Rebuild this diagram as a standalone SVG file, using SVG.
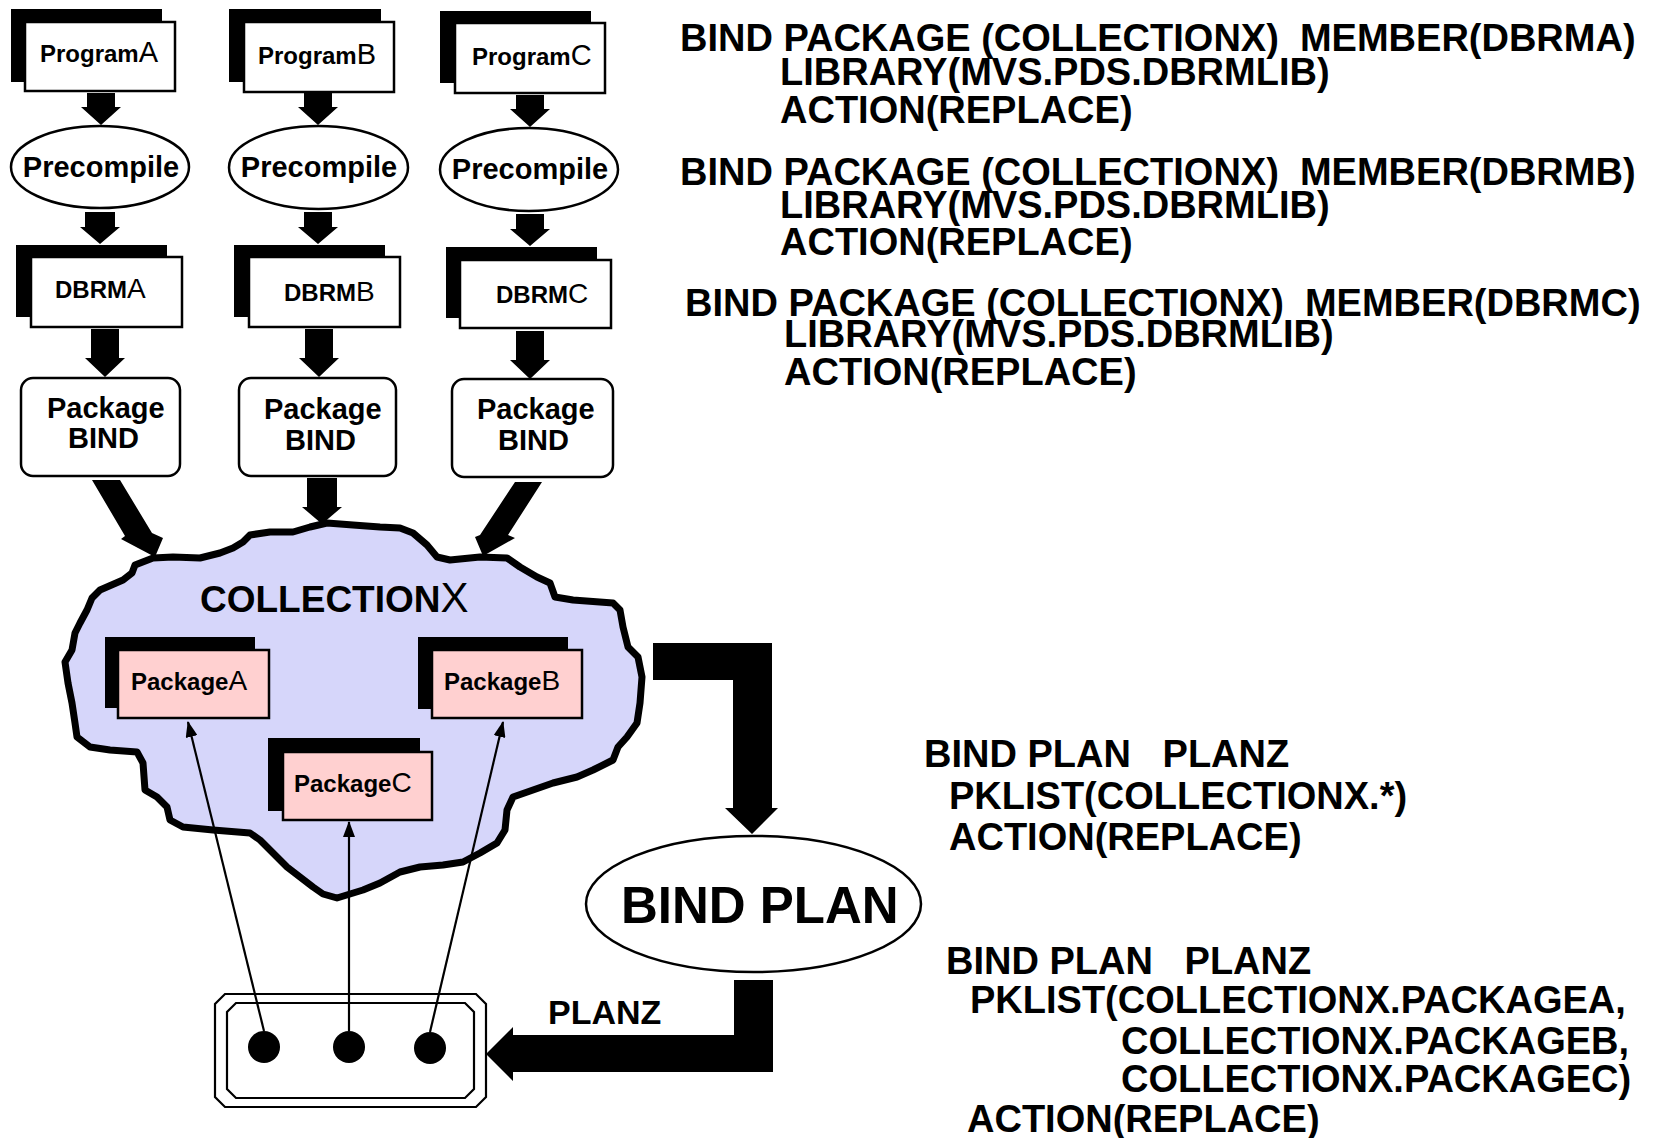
<svg xmlns="http://www.w3.org/2000/svg" width="1657" height="1138" viewBox="0 0 1657 1138">
<style>
  .bg{fill:#ffffff}
  .sh{fill:#000000}
  .box{fill:#ffffff;stroke:#000000;stroke-width:2.5}
  .pk{fill:#ffd0d0;stroke:#000000;stroke-width:2.5}
  .ell{fill:#ffffff;stroke:#000000;stroke-width:2.5}
  .blk{fill:#000000}
  .thin{fill:none;stroke:#000000;stroke-width:2.2}
  .cloud{fill:#d6d6fa;stroke:#000000;stroke-width:7;stroke-linejoin:round}
  .t{font-family:"Liberation Sans",Arial,sans-serif;fill:#000000}
  .b{font-weight:bold}
  .code{font-family:"Liberation Sans",Arial,sans-serif;font-weight:bold;font-size:38px;fill:#000000}
</style>
<defs>
  <marker id="ah" viewBox="0 0 16 12" refX="15" refY="6" markerWidth="16" markerHeight="12" markerUnits="userSpaceOnUse" orient="auto">
    <path d="M0,0 L16,6 L0,12 z" fill="#000000"/>
  </marker>
</defs>
<rect class="bg" x="0" y="0" width="1657" height="1138"/>

<g id="collectionx">
  <path class="cloud" d="M153,558 L173,557 L200,558 L220,553 L233,548 L243,542 L250,535 L270,532 L293,532 L310,527 L327,523 L353,525 L380,527 L400,528 L413,533 L427,545 L437,557 L450,560 L480,557 L507,558 L520,567 L537,577 L550,583 L555,597 L573,600 L613,603 L620,610 L623,627 L628,647 L638,657 L642,677 L640,703 L637,723 L627,737 L618,747 L613,760 L593,770 L577,777 L553,783 L533,790 L513,797 L507,810 L505,830 L497,843 L480,853 L463,862 L443,865 L420,867 L400,872 L380,883 L363,890 L350,894 L337,898 L323,894 L313,887 L300,877 L287,867 L273,853 L260,840 L250,833 L213,830 L183,827 L170,820 L167,807 L157,797 L145,790 L143,763 L137,752 L110,750 L90,747 L77,737 L75,723 L72,703 L68,683 L65,662 L72,650 L75,633 L80,623 L87,610 L92,598 L100,590 L123,580 L132,573 L135,565 Z"/>
  <text class="t b" x="200" y="612" font-size="37">COLLECTION<tspan font-weight="normal" font-size="42">X</tspan></text>
</g>

<g id="packageA">
  <rect class="sh" x="105" y="637" width="150" height="71"/>
  <rect class="pk" x="118" y="650" width="151" height="68"/>
  <text class="t b" x="131" y="690" font-size="24">Package<tspan font-weight="normal" font-size="28">A</tspan></text>
</g>
<g id="packageB">
  <rect class="sh" x="418" y="637" width="150" height="72"/>
  <rect class="pk" x="432" y="650" width="150" height="68"/>
  <text class="t b" x="444" y="690" font-size="24">Package<tspan font-weight="normal" font-size="28">B</tspan></text>
</g>
<g id="packageC">
  <rect class="sh" x="268" y="738" width="152" height="73"/>
  <rect class="pk" x="283" y="752" width="149" height="68"/>
  <text class="t b" x="294" y="792" font-size="24">Package<tspan font-weight="normal" font-size="28">C</tspan></text>
</g>

<g id="programA">
  <rect class="sh" x="11" y="9" width="151" height="73"/>
  <rect class="box" x="25" y="22" width="150" height="69"/>
  <text class="t b" x="40" y="62" font-size="24">Program<tspan font-weight="normal" font-size="29">A</tspan></text>
</g>
<g id="programB">
  <rect class="sh" x="229" y="9" width="152" height="73"/>
  <rect class="box" x="244" y="22" width="150" height="70"/>
  <text class="t b" x="258" y="64" font-size="24">Program<tspan font-weight="normal" font-size="29">B</tspan></text>
</g>
<g id="programC">
  <rect class="sh" x="440" y="11" width="151" height="72"/>
  <rect class="box" x="455" y="23" width="150" height="70"/>
  <text class="t b" x="472" y="65" font-size="24">Program<tspan font-weight="normal" font-size="29">C</tspan></text>
</g>

<g id="precompileA">
  <ellipse class="ell" cx="100" cy="167" rx="89" ry="41"/>
  <text class="t b" x="101" y="177" font-size="29" text-anchor="middle">Precompile</text>
</g>
<g id="precompileB">
  <ellipse class="ell" cx="318.5" cy="167.5" rx="89.5" ry="41.5"/>
  <text class="t b" x="319" y="177" font-size="29" text-anchor="middle">Precompile</text>
</g>
<g id="precompileC">
  <ellipse class="ell" cx="529" cy="169.5" rx="89" ry="41.5"/>
  <text class="t b" x="530" y="179" font-size="29" text-anchor="middle">Precompile</text>
</g>

<g id="dbrmA">
  <rect class="sh" x="16" y="245" width="151" height="72"/>
  <rect class="box" x="31" y="257" width="151" height="70"/>
  <text class="t b" x="55" y="298" font-size="24">DBRM<tspan font-weight="normal" font-size="28">A</tspan></text>
</g>
<g id="dbrmB">
  <rect class="sh" x="234" y="245" width="151" height="72"/>
  <rect class="box" x="249" y="257" width="151" height="70"/>
  <text class="t b" x="284" y="301" font-size="24">DBRM<tspan font-weight="normal" font-size="28">B</tspan></text>
</g>
<g id="dbrmC">
  <rect class="sh" x="446" y="247" width="151" height="71"/>
  <rect class="box" x="460" y="260" width="151" height="68"/>
  <text class="t b" x="496" y="303" font-size="24">DBRM<tspan font-weight="normal" font-size="28">C</tspan></text>
</g>

<g id="bindA">
  <rect class="box" x="21" y="378" width="159" height="98" rx="12"/>
  <text class="t b" x="47" y="418" font-size="29">Package</text>
  <text class="t b" x="68" y="448" font-size="29">BIND</text>
</g>
<g id="bindB">
  <rect class="box" x="239" y="378" width="157" height="98" rx="12"/>
  <text class="t b" x="264" y="419" font-size="29">Package</text>
  <text class="t b" x="285" y="450" font-size="29">BIND</text>
</g>
<g id="bindC">
  <rect class="box" x="452" y="379" width="161" height="98" rx="12"/>
  <text class="t b" x="477" y="419" font-size="29">Package</text>
  <text class="t b" x="498" y="450" font-size="29">BIND</text>
</g>

<g id="bindplan">
  <ellipse class="ell" cx="753.5" cy="904" rx="167.5" ry="68"/>
  <text class="t b" x="621" y="923" font-size="51">BIND PLAN</text>
</g>

<g id="planz">
  <path class="thin" d="M225,994 L476,994 L486,1004 L486,1097 L476,1107 L225,1107 L215,1097 L215,1004 Z"/>
  <path class="thin" d="M236,1003 L465,1003 L474,1012 L474,1089 L465,1098 L236,1098 L227,1089 L227,1012 Z"/>
  <circle cx="264" cy="1047" r="16" fill="#000"/>
  <circle cx="349" cy="1047" r="16" fill="#000"/>
  <circle cx="430" cy="1048" r="16" fill="#000"/>
  <text class="t b" x="548" y="1024" font-size="34">PLANZ</text>
</g>

<g id="commands">
  <text class="code" x="680" y="51">BIND PACKAGE (COLLECTIONX)&#160; MEMBER(DBRMA)</text>
  <text class="code" x="780" y="85">LIBRARY(MVS.PDS.DBRMLIB)</text>
  <text class="code" x="780" y="123">ACTION(REPLACE)</text>
  <text class="code" x="680" y="185">BIND PACKAGE (COLLECTIONX)&#160; MEMBER(DBRMB)</text>
  <text class="code" x="780" y="218">LIBRARY(MVS.PDS.DBRMLIB)</text>
  <text class="code" x="780" y="255">ACTION(REPLACE)</text>
  <text class="code" x="685" y="316">BIND PACKAGE (COLLECTIONX)&#160; MEMBER(DBRMC)</text>
  <text class="code" x="784" y="347">LIBRARY(MVS.PDS.DBRMLIB)</text>
  <text class="code" x="784" y="385">ACTION(REPLACE)</text>
  <text class="code" x="924" y="767">BIND PLAN &#160; PLANZ</text>
  <text class="code" x="949" y="809">PKLIST(COLLECTIONX.*)</text>
  <text class="code" x="949" y="850">ACTION(REPLACE)</text>
  <text class="code" x="946" y="974">BIND PLAN &#160; PLANZ</text>
  <text class="code" x="970" y="1013">PKLIST(COLLECTIONX.PACKAGEA,</text>
  <text class="code" x="1121" y="1054">COLLECTIONX.PACKAGEB,</text>
  <text class="code" x="1121" y="1092">COLLECTIONX.PACKAGEC)</text>
  <text class="code" x="967" y="1132">ACTION(REPLACE)</text>
</g>

<g id="connectors">
  <polygon class="blk" points="87,93 115,93 115,107 121,107 101,125 81,107 87,107"/>
  <polygon class="blk" points="304,93 332,93 332,107 338,107 318,125 298,107 304,107"/>
  <polygon class="blk" points="516,95 544,95 544,109 550,109 530,127 510,109 516,109"/>
  <polygon class="blk" points="85,212 115,212 115,227 120,227 100,244 80,227 85,227"/>
  <polygon class="blk" points="304,212 332,212 332,227 338,227 318,244 298,227 304,227"/>
  <polygon class="blk" points="516,214 544,214 544,229 550,229 530,246 510,229 516,229"/>
  <polygon class="blk" points="91,329 119,329 119,358 125,358 105,377 85,358 91,358"/>
  <polygon class="blk" points="305,329 333,329 333,358 339,358 319,377 299,358 305,358"/>
  <polygon class="blk" points="516,331 544,331 544,360 550,360 530,379 510,360 516,360"/>
  <polygon class="blk" points="92,480 120,480 152,533 163,538 155,557 121,539 125,536"/>
  <polygon class="blk" points="307,478 337,478 337,507 342,507 322,524 302,507 307,507"/>
  <polygon class="blk" points="515,482 542,482 508,535 515,538 483,556 475,537 480,535"/>
  <polygon class="blk" points="653,643 772,643 772,808 778,808 752,834 725,808 733,808 733,680 653,680"/>
  <polygon class="blk" points="734,980 773,980 773,1072 513,1072 513,1081 486,1054 513,1027 513,1035 734,1035"/>
  <line class="thin" x1="264" y1="1031" x2="188" y2="722" marker-end="url(#ah)"/>
  <line class="thin" x1="349" y1="1031" x2="349" y2="822" marker-end="url(#ah)"/>
  <line class="thin" x1="430" y1="1032" x2="503" y2="722" marker-end="url(#ah)"/>
</g>
</svg>
